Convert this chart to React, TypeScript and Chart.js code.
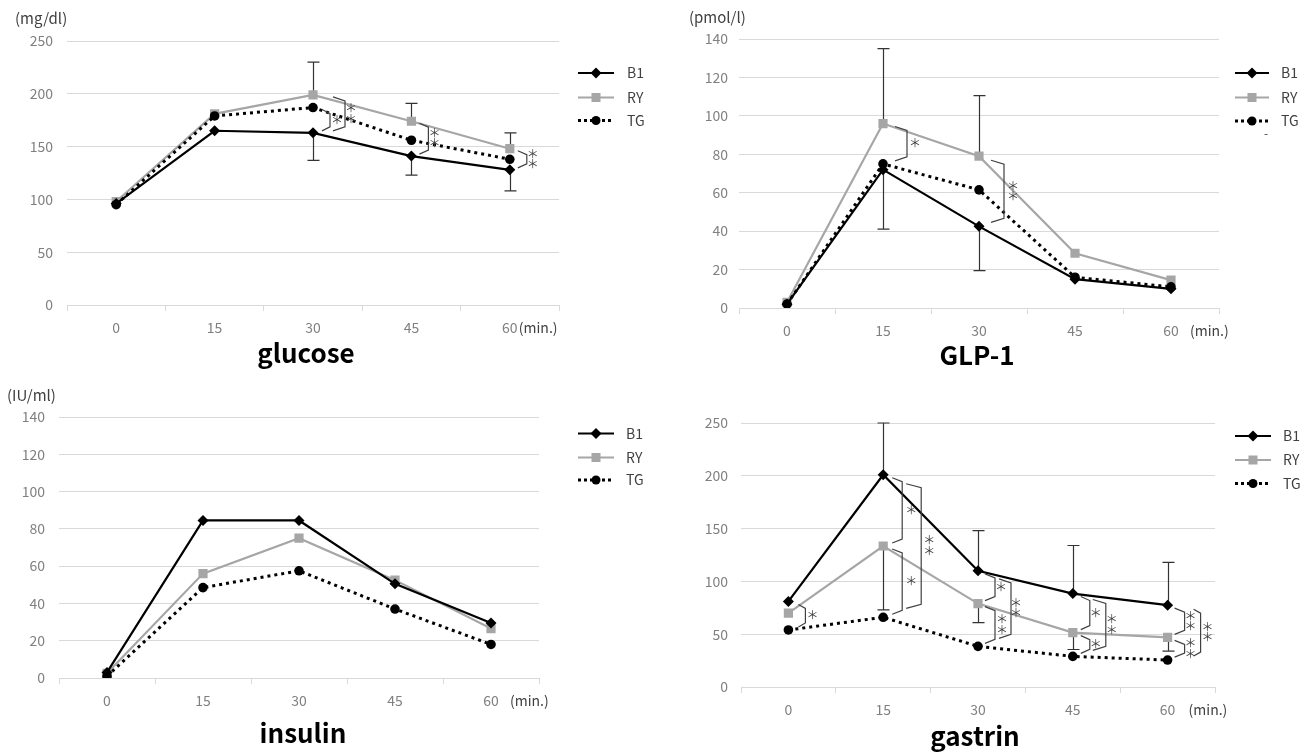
import React, { useEffect, useRef } from 'react';
import { Chart, registerables } from 'chart.js';

Chart.register(...registerables);

// ---------- data ----------
const timeLabels = ['0', '15', '30', '45', '60'];
const seriesNames = ['B1', 'RY', 'TG'];

const glucoseB1 = [96, 165, 163, 141, 128];
const glucoseRY = [98, 181, 199, 174, 148];
const glucoseTG = [95, 179, 187, 156, 138];
const glucoseErrUpperRY = [null, null, 230, 191, 163];
const glucoseErrLowerB1 = [null, null, 137, 123, 108];

const glp1B1 = [2, 72, 42.5, 15, 10];
const glp1RY = [3, 96, 79, 28.5, 14.5];
const glp1TG = [2, 75, 61.5, 16, 11];
const glp1ErrUpperRY = [null, 135, 110.5, null, null];
const glp1ErrLowerB1 = [null, 41, 19.5, null, null];

const insulinB1 = [3, 84.5, 84.5, 50.5, 29.5];
const insulinRY = [2.5, 56, 75, 52.5, 26.5];
const insulinTG = [1, 48.5, 57.5, 37, 18];

const gastrinB1 = [81, 201, 110, 88.5, 77.5];
const gastrinRY = [70, 133.5, 79, 51.5, 47];
const gastrinTG = [54, 66, 38.5, 29, 25.5];
const gastrinErrUpperB1 = [null, 250, 148, 134, 118];
const gastrinErrLowerRY = [null, 73, 61, 35.5, 34];

const yTicksGlucose = { max: 250, step: 50 };
const yTicksGlp1 = { max: 140, step: 20 };
const yTicksInsulin = { max: 140, step: 20 };
const yTicksGastrin = { max: 250, step: 50 };

// significance marks: category index, compared series, label
const glucoseSig = [
  { i: 2, top: 'TG', bottom: 'B1', label: '＊' },
  { i: 2, top: 'RY', bottom: 'B1', label: '＊＊' },
  { i: 3, top: 'RY', bottom: 'B1', label: '＊＊' },
  { i: 4, top: 'RY', bottom: 'B1', label: '＊＊' },
];
const glp1Sig = [
  { i: 1, top: 'RY', bottom: 'TG', label: '＊' },
  { i: 2, top: 'RY', bottom: 'B1', label: '＊＊' },
];
const gastrinSig = [
  { i: 0, top: 'B1', bottom: 'TG', label: '＊' },
  { i: 1, top: 'B1', bottom: 'RY', label: '＊' },
  { i: 1, top: 'RY', bottom: 'TG', label: '＊' },
  { i: 1, top: 'B1', bottom: 'TG', label: '＊＊' },
  { i: 2, top: 'B1', bottom: 'RY', label: '＊' },
  { i: 2, top: 'RY', bottom: 'TG', label: '＊＊' },
  { i: 2, top: 'B1', bottom: 'TG', label: '＊＊' },
  { i: 3, top: 'B1', bottom: 'RY', label: '＊' },
  { i: 3, top: 'RY', bottom: 'TG', label: '＊' },
  { i: 3, top: 'B1', bottom: 'TG', label: '＊＊' },
  { i: 4, top: 'B1', bottom: 'RY', label: '＊＊' },
  { i: 4, top: 'RY', bottom: 'TG', label: '＊＊' },
  { i: 4, top: 'B1', bottom: 'TG', label: '＊＊' },
];

// ---------- layout / style (pixel placement of each mark kind) ----------
const FONT = "'Noto Sans CJK JP', 'Noto Sans', sans-serif";
const GRID = '#d9d9d9';
const TICK = '#808080';
const TEXT = '#404040';
const GRAY = '#a6a6a6';

// bracket geometry for each significance mark (same order as the sig arrays)
const glucoseSigGeom = [
  { x0: 9, x1: 17, lx: 24, inset: 2 },
  { x0: 20, x1: 32, lx: 38, inset: 2 },
  { x0: 8, x1: 17, lx: 23, inset: 2 },
  { x0: 8, x1: 17, lx: 23, inset: 2 },
];
const glp1SigGeom = [
  { x0: 12, x1: 24, lx: 32, inset: 3 },
  { x0: 12, x1: 25, lx: 34, inset: 4 },
];
const gastrinSigGeom = [
  { x0: 10, x1: 17, lx: 24, inset: 3 },
  { x0: 9, x1: 19, lx: 28, inset: 3 },
  { x0: 9, x1: 19, lx: 28, inset: 3 },
  { x0: 23, x1: 38, lx: 46, inset: 9 },
  { x0: 7, x1: 17, lx: 23, inset: 3 },
  { x0: 7, x1: 17, lx: 24, inset: 3 },
  { x0: 21, x1: 33, lx: 38, inset: 8 },
  { x0: 8, x1: 17, lx: 23, inset: 3 },
  { x0: 8, x1: 17, lx: 23, inset: 3 },
  { x0: 20, x1: 33, lx: 39, inset: 6 },
  { x0: 7, x1: 17, lx: 23, inset: 3 },
  { x0: 7, x1: 17, lx: 23, inset: 3 },
  { x0: 26, x1: 33, lx: 40, inset: 4 },
];

type Panel = any;

const panels: Panel[] = [
  {
    key: 'glucose',
    left: 0, top: 0, width: 655, height: 378,
    area: { l: 67, t: 41, r: 559, b: 305 },
    yt: yTicksGlucose, yPad: 14,
    series: { B1: glucoseB1, RY: glucoseRY, TG: glucoseTG },
    errors: [
      { s: 'RY', ends: glucoseErrUpperRY },
      { s: 'B1', ends: glucoseErrLowerB1 },
    ],
    sig: glucoseSig, sigGeom: glucoseSigGeom,
    unit: { text: '(mg/dl)', x: 15, y: 18 },
    title: { text: 'glucose', x: 306, y: 363 },
    minOffset: 9,
    legend: { x0: 578, x1: 614, tx: 627, ys: [73, 97.5, 120.5] },
  },
  {
    key: 'glp1',
    left: 655, top: 0, width: 656, height: 378,
    area: { l: 84, t: 39, r: 564, b: 308 },
    yt: yTicksGlp1, yPad: 11,
    series: { B1: glp1B1, RY: glp1RY, TG: glp1TG },
    errors: [
      { s: 'RY', ends: glp1ErrUpperRY },
      { s: 'B1', ends: glp1ErrLowerB1 },
    ],
    sig: glp1Sig, sigGeom: glp1SigGeom,
    unit: { text: '(pmol/l)', x: 34, y: 17 },
    title: { text: 'GLP-1', x: 322, y: 365 },
    minOffset: 19,
    legend: { x0: 580, x1: 614, tx: 626, ys: [73, 97.5, 121] },
    dash: { text: '-', x: 609, y: 133 },
  },
  {
    key: 'insulin',
    left: 0, top: 378, width: 655, height: 377,
    area: { l: 59, t: 39, r: 539, b: 300 },
    yt: yTicksInsulin, yPad: 14,
    series: { B1: insulinB1, RY: insulinRY, TG: insulinTG },
    errors: [],
    sig: [], sigGeom: [],
    unit: { text: '(IU/ml)', x: 7, y: 17 },
    title: { text: 'insulin', x: 303, y: 365 },
    minOffset: 19,
    legend: { x0: 578, x1: 614, tx: 626, ys: [55.5, 79.5, 102] },
  },
  {
    key: 'gastrin',
    left: 655, top: 378, width: 656, height: 377,
    area: { l: 86, t: 45, r: 560, b: 309 },
    yt: yTicksGastrin, yPad: 13,
    series: { B1: gastrinB1, RY: gastrinRY, TG: gastrinTG },
    errors: [
      { s: 'B1', ends: gastrinErrUpperB1 },
      { s: 'RY', ends: gastrinErrLowerRY },
    ],
    sig: gastrinSig, sigGeom: gastrinSigGeom,
    unit: null,
    title: { text: 'gastrin', x: 320, y: 368 },
    minOffset: 21,
    legend: { x0: 580, x1: 616, tx: 628, ys: [58, 82, 105.5] },
  },
];

function drawMarker(ctx: CanvasRenderingContext2D, name: string, x: number, y: number) {
  ctx.save();
  if (name === 'B1') {
    ctx.fillStyle = '#000';
    ctx.beginPath();
    ctx.moveTo(x, y - 5.5);
    ctx.lineTo(x + 5.5, y);
    ctx.lineTo(x, y + 5.5);
    ctx.lineTo(x - 5.5, y);
    ctx.closePath();
    ctx.fill();
  } else if (name === 'RY') {
    ctx.fillStyle = GRAY;
    ctx.fillRect(x - 4.5, y - 4.5, 9, 9);
  } else {
    ctx.fillStyle = '#000';
    ctx.beginPath();
    ctx.arc(x, y, 4.5, 0, Math.PI * 2);
    ctx.fill();
  }
  ctx.restore();
}

function makePlugin(p: Panel) {
  return {
    id: 'extras_' + p.key,
    beforeDatasetsDraw(chart: any) {
      const ctx = chart.ctx;
      const xs = chart.scales.x;
      const ys = chart.scales.y;
      ctx.save();
      ctx.strokeStyle = '#333';
      ctx.lineWidth = 1.2;
      p.errors.forEach((e: any) => {
        const vals = p.series[e.s];
        e.ends.forEach((end: number | null, i: number) => {
          if (end === null || end === undefined) return;
          const x = Math.round(xs.getPixelForValue(i)) + 0.5;
          const y0 = ys.getPixelForValue(vals[i]);
          const y1 = ys.getPixelForValue(end);
          ctx.beginPath();
          ctx.moveTo(x, y0);
          ctx.lineTo(x, y1);
          ctx.moveTo(x - 6, y1);
          ctx.lineTo(x + 6, y1);
          ctx.stroke();
        });
      });
      ctx.restore();
    },
    afterDatasetsDraw(chart: any) {
      const ctx = chart.ctx;
      const xs = chart.scales.x;
      const ys = chart.scales.y;
      ctx.save();
      ctx.strokeStyle = '#404040';
      ctx.lineWidth = 1.2;
      ctx.fillStyle = '#404040';
      ctx.font = `12px ${FONT}`;
      ctx.textAlign = 'center';
      ctx.textBaseline = 'middle';
      p.sig.forEach((s: any, k: number) => {
        const g = p.sigGeom[k];
        const cx = xs.getPixelForValue(s.i);
        const yt = ys.getPixelForValue(p.series[s.top][s.i]) + g.inset;
        const yb = ys.getPixelForValue(p.series[s.bottom][s.i]) - g.inset;
        const sl = 4;
        ctx.beginPath();
        ctx.moveTo(cx + g.x0, yt);
        ctx.lineTo(cx + g.x1, yt + sl);
        ctx.lineTo(cx + g.x1, yb - sl);
        ctx.lineTo(cx + g.x0, yb);
        ctx.stroke();
        const ym = (yt + yb) / 2;
        const n = s.label.length;
        for (let j = 0; j < n; j++) {
          const yy = ym + (j - (n - 1) / 2) * 10.5;
          ctx.fillText('＊', cx + g.lx, yy);
        }
      });
      ctx.restore();
    },
    afterDraw(chart: any) {
      const ctx = chart.ctx;
      const xs = chart.scales.x;
      const area = chart.chartArea;
      ctx.save();
      // unit label
      if (p.unit) {
        ctx.fillStyle = TEXT;
        ctx.font = `15px ${FONT}`;
        ctx.textAlign = 'left';
        ctx.textBaseline = 'middle';
        ctx.fillText(p.unit.text, p.unit.x, p.unit.y);
      }
      if (p.dash) {
        ctx.fillStyle = TEXT;
        ctx.font = `12px ${FONT}`;
        ctx.textAlign = 'left';
        ctx.textBaseline = 'middle';
        ctx.fillText(p.dash.text, p.dash.x, p.dash.y);
      }
      // (min.)
      ctx.fillStyle = TEXT;
      ctx.font = `14px ${FONT}`;
      ctx.textAlign = 'left';
      ctx.textBaseline = 'middle';
      ctx.fillText('(min.)', xs.getPixelForValue(timeLabels.length - 1) + p.minOffset, area.bottom + 22.5);
      // title
      ctx.fillStyle = '#000';
      ctx.font = `bold 26px ${FONT}`;
      ctx.textAlign = 'center';
      ctx.textBaseline = 'alphabetic';
      ctx.fillText(p.title.text, p.title.x, p.title.y);
      // legend
      const lg = p.legend;
      seriesNames.forEach((name, k) => {
        const y = lg.ys[k];
        ctx.save();
        ctx.beginPath();
        if (name === 'B1') {
          ctx.strokeStyle = '#000';
          ctx.lineWidth = 2.2;
        } else if (name === 'RY') {
          ctx.strokeStyle = GRAY;
          ctx.lineWidth = 2.2;
        } else {
          ctx.strokeStyle = '#000';
          ctx.lineWidth = 3;
          ctx.setLineDash([3, 3]);
        }
        ctx.moveTo(lg.x0, y);
        ctx.lineTo(lg.x1, y);
        ctx.stroke();
        ctx.restore();
        drawMarker(ctx, name, (lg.x0 + lg.x1) / 2, y);
        ctx.fillStyle = TEXT;
        ctx.font = `14px ${FONT}`;
        ctx.textAlign = 'left';
        ctx.textBaseline = 'middle';
        ctx.fillText(name, lg.tx, y);
      });
      ctx.restore();
    },
  };
}

function ChartPanel({ p }: { p: Panel }) {
  const ref = useRef<HTMLCanvasElement>(null);
  useEffect(() => {
    if (!ref.current) return;
    const a = p.area;
    const chart = new Chart(ref.current, {
      type: 'line',
      data: {
        labels: timeLabels,
        datasets: [
          {
            label: 'B1',
            data: p.series.B1,
            borderColor: '#000',
            borderWidth: 2.2,
            pointStyle: 'rectRot',
            pointRadius: 5.5,
            pointBackgroundColor: '#000',
            pointBorderColor: '#000',
            pointBorderWidth: 0,
            tension: 0,
            order: 0,
          },
          {
            label: 'TG',
            data: p.series.TG,
            borderColor: '#000',
            borderWidth: 3,
            borderDash: [3, 4],
            pointStyle: 'circle',
            pointRadius: 4.8,
            pointBackgroundColor: '#000',
            pointBorderColor: '#000',
            pointBorderWidth: 0,
            tension: 0,
            order: 1,
          },
          {
            label: 'RY',
            data: p.series.RY,
            borderColor: GRAY,
            borderWidth: 2.2,
            pointStyle: 'rect',
            pointRadius: 6.5,
            pointBackgroundColor: GRAY,
            pointBorderColor: GRAY,
            pointBorderWidth: 0,
            tension: 0,
            order: 2,
          },
        ],
      },
      options: {
        responsive: false,
        maintainAspectRatio: false,
        animation: false,
        devicePixelRatio: 1,
        events: [],
        layout: { padding: { left: 0, top: a.t, right: p.width - a.r, bottom: 0 } },
        plugins: {
          legend: { display: false },
          tooltip: { enabled: false },
          title: { display: false },
        },
        scales: {
          x: {
            type: 'category',
            offset: true,
            grid: {
              offset: true,
              drawOnChartArea: false,
              drawTicks: true,
              tickLength: 6,
              color: GRID,
              lineWidth: 1,
            },
            border: { display: true, color: GRID },
            ticks: {
              color: TICK,
              font: { family: FONT, size: 14 },
              padding: 8,
              maxRotation: 0,
              autoSkip: false,
            },
            afterFit: (s: any) => {
              s.height = p.height - a.b;
            },
          },
          y: {
            min: 0,
            max: p.yt.max,
            ticks: {
              stepSize: p.yt.step,
              color: TICK,
              font: { family: FONT, size: 14 },
              padding: p.yPad,
            },
            grid: { color: GRID, drawTicks: false, lineWidth: 1 },
            border: { display: false },
            afterFit: (s: any) => {
              s.width = a.l;
            },
          },
        },
      },
      plugins: [makePlugin(p)],
    } as any);
    return () => chart.destroy();
  }, []);
  return (
    <canvas
      ref={ref}
      width={p.width}
      height={p.height}
      style={{ position: 'absolute', left: p.left, top: p.top, width: p.width, height: p.height }}
    />
  );
}

export default function App() {
  return (
    <div style={{ position: 'absolute', left: 0, top: 0, width: 1311, height: 755, background: '#fff', overflow: 'hidden' }}>
      {panels.map((p) => (
        <ChartPanel key={p.key} p={p} />
      ))}
    </div>
  );
}
